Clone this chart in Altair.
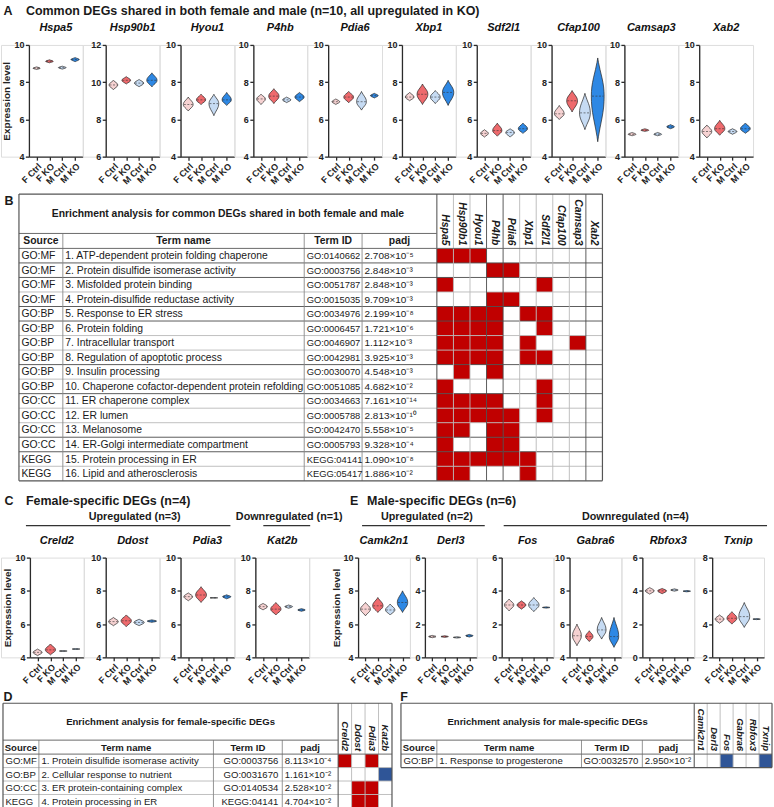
import altair as alt
import pandas as pd

FONT = "Liberation Sans"
PAGE_W = 774
PAGE_H = 807
INK = "#1a1a1a"
RED = "#c00000"
BLUE = "#2f5597"

GROUPS = ["F Ctrl", "F KO", "M Ctrl", "M KO"]
GROUP_COLORS = ["#f6d2d2", "#ee6a6d", "#c6dbf3", "#2e88e4"]

# ---------------- violin summaries ----------------
A_GENES = ["Hspa5", "Hsp90b1", "Hyou1", "P4hb", "Pdia6", "Xbp1", "Sdf2l1", "Cfap100", "Camsap3", "Xab2"]
C_GENES = ["Creld2", "Ddost", "Pdia3", "Kat2b"]
E_GENES = ["Camk2n1", "Derl3", "Fos", "Gabra6", "Rbfox3", "Txnip"]

Y_RANGE = {
    "Hspa5": (4, 10), "Hsp90b1": (6, 12), "Hyou1": (4, 10), "P4hb": (4, 10), "Pdia6": (4, 10),
    "Xbp1": (4, 10), "Sdf2l1": (4, 10), "Cfap100": (4, 10), "Camsap3": (4, 10), "Xab2": (4, 10),
    "Creld2": (4, 10), "Ddost": (4, 10), "Pdia3": (4, 10), "Kat2b": (4, 10),
    "Camk2n1": (4, 10), "Derl3": (0, 6), "Fos": (0, 6), "Gabra6": (4, 10), "Rbfox3": (0, 6), "Txnip": (2, 8),
}
# widest point of each violin (F Ctrl, F KO, M Ctrl, M KO)
V_MID = {
    "Hspa5": [8.75, 9.12, 8.78, 9.22], "Hsp90b1": [9.85, 10.1, 9.95, 10.1],
    "Hyou1": [6.8, 7.05, 6.85, 7.05], "P4hb": [7.1, 7.25, 7.05, 7.2],
    "Pdia6": [6.95, 7.2, 6.95, 7.28], "Xbp1": [7.2, 7.35, 7.2, 7.45],
    "Sdf2l1": [5.25, 5.4, 5.3, 5.5], "Cfap100": [6.3, 7.0, 6.35, 7.25],
    "Camsap3": [5.2, 5.42, 5.2, 5.6], "Xab2": [5.35, 5.5, 5.35, 5.5],
    "Creld2": [4.3, 4.45, 4.38, 4.5], "Ddost": [6.15, 6.2, 6.1, 6.18],
    "Pdia3": [7.65, 7.75, 7.58, 7.65], "Kat2b": [7.05, 6.9, 7.05, 6.85],
    "Camk2n1": [6.9, 7.1, 6.85, 7.3], "Derl3": [1.25, 1.25, 1.2, 1.3],
    "Fos": [3.15, 3.15, 3.15, 3.0], "Gabra6": [5.3, 5.25, 5.65, 5.25],
    "Rbfox3": [4.0, 4.0, 4.05, 3.98], "Txnip": [4.3, 4.35, 4.45, 4.3],
}
V_LO = {
    "Hspa5": [8.68, 9.04, 8.7, 9.1], "Hsp90b1": [9.6, 9.9, 9.75, 9.75],
    "Hyou1": [6.45, 6.8, 6.2, 6.75], "P4hb": [6.8, 6.85, 6.9, 6.95],
    "Pdia6": [6.8, 6.9, 6.5, 7.15], "Xbp1": [7.0, 6.8, 6.85, 6.75],
    "Sdf2l1": [5.05, 5.1, 5.05, 5.25], "Cfap100": [6.0, 6.4, 5.45, 4.8],
    "Camsap3": [5.12, 5.35, 5.12, 5.5], "Xab2": [5.0, 5.15, 5.2, 5.25],
    "Creld2": [4.1, 4.15, 4.35, 4.48], "Ddost": [5.9, 5.85, 5.9, 6.1],
    "Pdia3": [7.4, 7.3, 7.56, 7.52], "Kat2b": [6.85, 6.55, 6.95, 6.77],
    "Camk2n1": [6.5, 6.7, 6.55, 6.7], "Derl3": [1.18, 1.2, 1.16, 1.22],
    "Fos": [2.8, 2.9, 2.75, 2.96], "Gabra6": [4.7, 4.95, 5.1, 4.6],
    "Rbfox3": [3.8, 3.82, 3.98, 3.94], "Txnip": [4.05, 4.0, 3.8, 4.27],
}
V_HI = {
    "Hspa5": [8.82, 9.2, 8.86, 9.32], "Hsp90b1": [10.1, 10.3, 10.15, 10.5],
    "Hyou1": [7.2, 7.35, 7.35, 7.45], "P4hb": [7.35, 7.65, 7.2, 7.45],
    "Pdia6": [7.1, 7.5, 7.5, 7.4], "Xbp1": [7.45, 7.9, 7.55, 8.1],
    "Sdf2l1": [5.45, 5.8, 5.5, 5.8], "Cfap100": [6.75, 7.55, 7.4, 9.3],
    "Camsap3": [5.3, 5.5, 5.3, 5.72], "Xab2": [5.7, 5.95, 5.5, 5.8],
    "Creld2": [4.5, 4.8, 4.41, 4.52], "Ddost": [6.4, 6.55, 6.3, 6.26],
    "Pdia3": [7.88, 8.25, 7.6, 7.76], "Kat2b": [7.25, 7.3, 7.15, 6.93],
    "Camk2n1": [7.3, 7.6, 7.2, 8.0], "Derl3": [1.32, 1.3, 1.24, 1.38],
    "Fos": [3.5, 3.4, 3.6, 3.04], "Gabra6": [6.0, 5.6, 6.4, 6.4],
    "Rbfox3": [4.2, 4.15, 4.12, 4.02], "Txnip": [4.55, 4.75, 5.3, 4.33],
}
# half width of each violin, in group-spacing units
V_HW = {
    "Hspa5": [0.28, 0.3, 0.3, 0.32], "Hsp90b1": [0.34, 0.34, 0.36, 0.4],
    "Hyou1": [0.38, 0.36, 0.38, 0.36], "P4hb": [0.34, 0.4, 0.32, 0.36],
    "Pdia6": [0.3, 0.38, 0.38, 0.3], "Xbp1": [0.34, 0.42, 0.38, 0.44],
    "Sdf2l1": [0.3, 0.36, 0.34, 0.36], "Cfap100": [0.38, 0.42, 0.42, 0.5],
    "Camsap3": [0.3, 0.3, 0.3, 0.3], "Xab2": [0.38, 0.4, 0.34, 0.38],
    "Creld2": [0.35, 0.4, 0.3, 0.3], "Ddost": [0.38, 0.4, 0.4, 0.36],
    "Pdia3": [0.34, 0.42, 0.3, 0.32], "Kat2b": [0.34, 0.4, 0.3, 0.3],
    "Camk2n1": [0.4, 0.42, 0.38, 0.42], "Derl3": [0.3, 0.3, 0.3, 0.3],
    "Fos": [0.38, 0.36, 0.42, 0.3], "Gabra6": [0.36, 0.3, 0.36, 0.38],
    "Rbfox3": [0.36, 0.36, 0.3, 0.3], "Txnip": [0.36, 0.4, 0.44, 0.3],
}

# ---------------- enrichment tables ----------------
B_GENES = A_GENES
B_SOURCE = ["GO:MF"] * 4 + ["GO:BP"] * 6 + ["GO:CC"] * 4 + ["KEGG"] * 2
B_TERMS = [
    "1. ATP-dependent protein folding chaperone", "2. Protein disulfide isomerase activity",
    "3. Misfolded protein binding", "4. Protein-disulfide reductase activity",
    "5. Response to ER stress", "6. Protein folding", "7. Intracellular transport",
    "8. Regulation of apoptotic process", "9. Insulin processing",
    "10. Chaperone cofactor-dependent protein refolding", "11. ER chaperone complex",
    "12. ER lumen", "13. Melanosome", "14. ER-Golgi intermediate compartment",
    "15. Protein processing in ER", "16. Lipid and atherosclerosis",
]
B_IDS = ["GO:0140662", "GO:0003756", "GO:0051787", "GO:0015035", "GO:0034976", "GO:0006457",
         "GO:0046907", "GO:0042981", "GO:0030070", "GO:0051085", "GO:0034663", "GO:0005788",
         "GO:0042470", "GO:0005793", "KEGG:04141", "KEGG:05417"]
B_PADJ = ["2.708×10⁻⁵", "2.848×10⁻³", "2.848×10⁻³", "9.709×10⁻³", "2.199×10⁻⁸", "1.721×10⁻⁶",
          "1.112×10⁻³", "3.925×10⁻³", "4.548×10⁻³", "4.682×10⁻²", "7.161×10⁻¹⁴", "2.813×10⁻¹⁰",
          "5.558×10⁻⁵", "9.328×10⁻⁴", "1.090×10⁻⁸", "1.886×10⁻²"]
B_HITS = [
    [1, 1, 1, 0, 0, 0, 0, 0, 0, 0],
    [0, 0, 0, 1, 1, 0, 0, 0, 0, 0],
    [1, 0, 0, 0, 0, 0, 1, 0, 0, 0],
    [0, 0, 0, 1, 1, 0, 0, 0, 0, 0],
    [1, 1, 1, 1, 0, 1, 1, 0, 0, 0],
    [1, 1, 1, 1, 0, 0, 1, 0, 0, 0],
    [1, 1, 1, 1, 0, 1, 0, 0, 1, 0],
    [1, 1, 1, 1, 0, 1, 1, 0, 0, 0],
    [0, 1, 0, 1, 0, 0, 0, 0, 0, 0],
    [1, 0, 0, 0, 0, 0, 1, 0, 0, 0],
    [1, 1, 1, 1, 0, 0, 1, 0, 0, 0],
    [1, 1, 1, 1, 1, 0, 1, 0, 0, 0],
    [1, 1, 0, 1, 1, 0, 0, 0, 0, 0],
    [1, 0, 0, 1, 1, 0, 0, 0, 0, 0],
    [1, 1, 1, 1, 1, 1, 0, 0, 0, 0],
    [1, 1, 0, 0, 0, 1, 0, 0, 0, 0],
]
D_GENES = ["Creld2", "Ddost", "Pdia3", "Kat2b"]
D_SOURCE = ["GO:MF", "GO:BP", "GO:CC", "KEGG"]
D_TERMS = ["1. Protein disulfide isomerase activity", "2. Cellular response to nutrient",
           "3. ER protein-containing complex", "4. Protein processing in ER"]
D_IDS = ["GO:0003756", "GO:0031670", "GO:0140534", "KEGG:04141"]
D_PADJ = ["8.113×10⁻⁴", "1.161×10⁻²", "2.528×10⁻²", "4.704×10⁻²"]
D_HITS = [[1, 0, 1, 0], [0, 0, 0, -1], [0, 1, 1, 0], [0, 1, 1, 0]]
F_GENES = E_GENES
F_SOURCE = ["GO:BP"]
F_TERMS = ["1. Response to progesterone"]
F_IDS = ["GO:0032570"]
F_PADJ = ["2.950×10⁻²"]
F_HITS = [[0, 0, -1, 0, 0, -1]]

# ---------------- layout / style constants ----------------
PROFILE_T = [0.0, 0.06, 0.15, 0.26, 0.38, 0.5, 0.62, 0.74, 0.85, 0.94, 1.0]
PROFILE_W = [0.0, 0.12, 0.35, 0.66, 0.92, 1.0, 0.92, 0.66, 0.35, 0.12, 0.0]

A_LEFT = [28, 105, 180, 253, 328, 402, 477, 552, 625, 700]
C_LEFT = [29, 105, 180, 255]
E_LEFT = [358, 425, 502, 570, 643, 713]
A_W, C_W, E_W = 54, 54, 52
A_TOP, A_H = 43, 112
CE_TOP, CE_H = 555, 100
SPLIT = 486            # page row where the upper block (A, B) meets the lower block (C-F)

B_LAYOUT = dict(cols=[18, 62, 304, 362, 437], gene_w=16.6, top=192.5, title_bottom=232,
                head_bottom=247, bottom=480, align=["left", "left", "left", "left"],
                fs=10.4, fs_cols=[10.4, 10.4, 9.4, 10.0],
                dark_rows=[1, 2, 4, 5, 8, 10, 13, 14], dark_cols=[3, 4, 9])
D_LAYOUT = dict(cols=[2, 38, 213, 282, 338], gene_w=13.5, top=701, title_bottom=738,
                head_bottom=752, bottom=806, align=["left", "left", "right", "left"],
                fs=9.6, fs_cols=[9.6, 9.6, 9.6, 9.6], dark_rows=[], dark_cols=[])
F_LAYOUT = dict(cols=[401, 437, 582, 643, 695], gene_w=13, top=701, title_bottom=738,
                head_bottom=752, bottom=765.5, align=["left", "left", "right", "left"],
                fs=9.6, fs_cols=[9.6, 9.6, 9.6, 9.6], dark_rows=[], dark_cols=[])

AXIS_STYLE = dict(domainColor="#2b2b2b", domainWidth=1.3, tickColor="#2b2b2b", tickWidth=1.3,
                  tickSize=3.5, labelFont=FONT, labelFontWeight="bold", labelColor="#222",
                  grid=False, labelFontSize=9, labelPadding=1.5, labelOverlap=False)


# ---------------- helpers ----------------
def gap_block(w, h):
    return alt.Chart(pd.DataFrame({"s": [0]})).mark_rect(opacity=0).encode(
        x=alt.value(0), x2=alt.value(w), y=alt.value(0), y2=alt.value(h)
    ).properties(width=w, height=h)


def violin_chart(gene, width, height, ytitle=None):
    ymin, ymax = Y_RANGE[gene]
    rows, meds = [], []
    for i, g in enumerate(GROUPS):
        lo, mid, hi, hw = V_LO[gene][i], V_MID[gene][i], V_HI[gene][i], V_HW[gene][i]
        for t, w in zip(PROFILE_T, PROFILE_W):
            v = lo + (mid - lo) * t / 0.5 if t <= 0.5 else mid + (hi - mid) * (t - 0.5) / 0.5
            rows.append({"group": g, "v": v, "xl": i - hw * w, "xr": i + hw * w})
        meds.append({"group": g, "v": mid, "xl": i - hw * 0.9, "xr": i + hw * 0.9})
    xs = alt.Scale(domain=[-0.6, 3.6], nice=False, zero=False)
    ys = alt.Scale(domain=[ymin, ymax], nice=False, zero=False)
    label_expr = "[" + ",".join("'%s'" % g for g in GROUPS) + "][datum.value]"
    xaxis = alt.Axis(values=[0, 1, 2, 3], labelExpr=label_expr, labelAngle=-45, title=None,
                     **AXIS_STYLE)
    ykw = dict(values=list(range(ymin, ymax + 1, 2)), **AXIS_STYLE)
    if ytitle:
        ykw.update(title=ytitle, titleFont=FONT, titleFontSize=10, titleFontWeight="bold",
                   titleColor="#222", titlePadding=2)
    else:
        ykw.update(title=None)
    yaxis = alt.Axis(**ykw)
    area = alt.Chart(pd.DataFrame(rows)).mark_area(
        orient="horizontal", interpolate="monotone", stroke="#222", strokeWidth=0.7
    ).encode(
        y=alt.Y("v:Q", scale=ys, axis=yaxis),
        x=alt.X("xl:Q", scale=xs, axis=xaxis, stack=None),
        x2="xr:Q",
        color=alt.Color("group:N", scale=alt.Scale(domain=GROUPS, range=GROUP_COLORS), legend=None),
    )
    med = alt.Chart(pd.DataFrame(meds)).mark_rule(
        strokeDash=[2, 1.5], strokeWidth=0.6, color="#333"
    ).encode(
        y=alt.Y("v:Q", scale=ys, axis=yaxis),
        x=alt.X("xl:Q", scale=xs, axis=xaxis),
        x2="xr:Q",
    )
    return alt.layer(area, med).properties(
        width=width, height=height,
        title=alt.TitleParams(gene, font=FONT, fontSize=11, fontStyle="italic",
                              fontWeight="bold", color="#111", offset=8),
    )


def text_layer(recs, xs, ys, **props):
    mk = dict(font=FONT, color=INK)
    mk.update(props)
    return alt.Chart(pd.DataFrame(recs)).mark_text(**mk).encode(
        x=alt.X("x:Q", scale=xs, axis=None),
        y=alt.Y("y:Q", scale=ys, axis=None),
        text="t:N",
    )


def rule_layer(recs, xs, ys):
    return alt.Chart(pd.DataFrame(recs)).mark_rule().encode(
        x=alt.X("x:Q", scale=xs, axis=None), x2="x2:Q",
        y=alt.Y("y:Q", scale=ys, axis=None), y2="y2:Q",
        color=alt.Color("c:N", scale=None),
        strokeWidth=alt.StrokeWidth("w:Q", scale=None),
    )


def rect_layer(recs, xs, ys, **props):
    return alt.Chart(pd.DataFrame(recs)).mark_rect(**props).encode(
        x=alt.X("x:Q", scale=xs, axis=None), x2="x2:Q",
        y=alt.Y("y:Q", scale=ys, axis=None), y2="y2:Q",
        fill=alt.Fill("f:N", scale=None),
    )


def table_layers(L, xs, ys, title, genes, source, terms, ids, padj, hits):
    c = L["cols"]
    gx = [c[-1] + L["gene_w"] * j for j in range(len(genes) + 1)]
    left, right = c[0], gx[-1]
    top, tb, hb, bot = L["top"], L["title_bottom"], L["head_bottom"], L["bottom"]
    n = len(source)
    rh = (bot - hb) / n
    ry = [hb + rh * r for r in range(n + 1)]
    fs = L["fs"]
    layers = []
    cells = []
    for r, rowvals in enumerate(hits):
        for j, v in enumerate(rowvals):
            if v:
                cells.append({"x": gx[j], "x2": gx[j + 1], "y": ry[r], "y2": ry[r + 1],
                              "f": RED if v > 0 else BLUE})
    if cells:
        layers.append(rect_layer(cells, xs, ys))
    light, dark = "#b8b8b8", "#4a4a4a"
    lines = []
    for r in range(1, n):
        col = dark if r in L["dark_rows"] else light
        lines.append({"x": left, "x2": right, "y": ry[r], "y2": ry[r], "c": col, "w": 0.9})
    for j in range(1, len(genes)):
        col = dark if j in L["dark_cols"] else light
        lines.append({"x": gx[j], "x2": gx[j], "y": top, "y2": bot, "c": col, "w": 0.9})
    for xc in c[1:-1]:
        lines.append({"x": xc, "x2": xc, "y": tb, "y2": bot, "c": "#8a8a8a", "w": 0.9})
    lines.append({"x": c[-1], "x2": c[-1], "y": top, "y2": bot, "c": dark, "w": 1.0})
    lines.append({"x": left, "x2": c[-1], "y": tb, "y2": tb, "c": "#6a6a6a", "w": 1.0})
    lines.append({"x": left, "x2": right, "y": hb, "y2": hb, "c": "#6a6a6a", "w": 1.0})
    for (x1, y1, x2, y2) in [(left, top, right, top), (left, bot, right, bot),
                             (left, top, left, bot), (right, top, right, bot)]:
        lines.append({"x": x1, "x2": x2, "y": y1, "y2": y2, "c": "#555555", "w": 1.2})
    layers.append(rule_layer(lines, xs, ys))
    layers.append(text_layer([{"x": (left + c[-1]) / 2, "y": (top + tb) / 2, "t": title}], xs, ys,
                             fontSize=fs, fontWeight="bold", align="center", baseline="middle"))
    heads = ["Source", "Term name", "Term ID", "padj"]
    layers.append(text_layer([{"x": (c[i] + c[i + 1]) / 2, "y": (tb + hb) / 2 + 0.5, "t": heads[i]}
                              for i in range(4)], xs, ys,
                             fontSize=fs, fontWeight="bold", align="center", baseline="middle"))
    layers.append(text_layer([{"x": (gx[j] + gx[j + 1]) / 2, "y": hb - 3, "t": g}
                              for j, g in enumerate(genes)], xs, ys,
                             fontSize=fs, fontWeight="bold", fontStyle="italic", angle=90,
                             align="right", baseline="middle"))
    cols = [source, terms, ids, padj]
    for i, vals in enumerate(cols):
        al = L["align"][i]
        if al == "left":
            xp = c[i] + 2.5
        elif al == "right":
            xp = c[i + 1] - 4
        else:
            xp = (c[i] + c[i + 1]) / 2
        recs = [{"x": xp, "y": (ry[r] + ry[r + 1]) / 2 + 0.5, "t": v} for r, v in enumerate(vals)]
        layers.append(text_layer(recs, xs, ys, fontSize=L["fs_cols"][i], align=al,
                                 baseline="middle"))
    return layers


def canvas_block(width, plot_top, plot_h, page_top, page_bottom, builder):
    """First block of a row: page-coordinate scales anchored on the row's plot area.
    It carries the headings/tables of that band and fixes the band's extent."""
    xs = alt.Scale(domain=[0, width], nice=False, zero=False)
    ys = alt.Scale(domain=[plot_top, plot_top + plot_h], nice=False, zero=False, reverse=True)
    frame = rect_layer([{"x": 0, "x2": PAGE_W, "y": page_top, "y2": page_bottom, "f": "#ffffff"}],
                       xs, ys, opacity=0)
    return alt.layer(frame, *builder(xs, ys)).properties(width=width, height=plot_h)


def band(first_left, plot_top, plot_h, page_top, page_bottom, builder, items):
    parts = [canvas_block(first_left, plot_top, plot_h, page_top, page_bottom, builder)]
    cursor = first_left
    for left, chart, width in items:
        gap = left - cursor
        if gap > 0.01:
            parts.append(gap_block(gap, plot_h))
        parts.append(chart)
        cursor = left + width
    return alt.hconcat(*parts, spacing=0, bounds="flush")


# ---------------- upper band: panel A + table B ----------------
def upper_content(xs, ys):
    layers = [
        text_layer([{"x": 7, "y": 8.5, "t": "A"}, {"x": 8, "y": 199, "t": "B"}], xs, ys,
                   fontSize=12.5, fontWeight="bold", align="center", baseline="middle"),
        text_layer([{"x": 25, "y": 8.5,
                     "t": "Common DEGs shared in both female and male (n=10, all upregulated in KO)"}],
                   xs, ys, fontSize=12.5, fontWeight="bold", align="left", baseline="middle"),
    ]
    layers += table_layers(B_LAYOUT, xs, ys,
                           "Enrichment analysis for common DEGs shared in both female and male",
                           B_GENES, B_SOURCE, B_TERMS, B_IDS, B_PADJ, B_HITS)
    return layers


upper = band(A_LEFT[0], A_TOP, A_H, 0, SPLIT, upper_content,
             [(A_LEFT[i], violin_chart(g, A_W, A_H, "Expression level" if i == 0 else None), A_W)
              for i, g in enumerate(A_GENES)])


# ---------------- lower band: panels C, E violins + tables D, F ----------------
def lower_content(xs, ys):
    layers = [
        text_layer([{"x": 8, "y": 498, "t": "C"}, {"x": 354, "y": 498, "t": "E"},
                    {"x": 7, "y": 695, "t": "D"}, {"x": 404, "y": 695, "t": "F"}], xs, ys,
                   fontSize=12.5, fontWeight="bold", align="center", baseline="middle"),
        text_layer([{"x": 25, "y": 498, "t": "Female-specific DEGs (n=4)"},
                    {"x": 367, "y": 498, "t": "Male-specific DEGs (n=6)"}], xs, ys,
                   fontSize=12.5, fontWeight="bold", align="left", baseline="middle"),
        text_layer([{"x": 134, "y": 514, "t": "Upregulated (n=3)"},
                    {"x": 289, "y": 514, "t": "Downregulated (n=1)"},
                    {"x": 427, "y": 514, "t": "Upregulated (n=2)"},
                    {"x": 636, "y": 514, "t": "Downregulated (n=4)"}], xs, ys,
                   fontSize=10.8, fontWeight="bold", align="center", baseline="middle"),
        rule_layer([{"x": a, "x2": b, "y": 523, "y2": 523, "c": "#333333", "w": 1.2}
                    for a, b in [(25, 230), (263, 310), (362, 485), (504, 768)]], xs, ys),
    ]
    layers += table_layers(D_LAYOUT, xs, ys, "Enrichment analysis for female-specific DEGs",
                           D_GENES, D_SOURCE, D_TERMS, D_IDS, D_PADJ, D_HITS)
    layers += table_layers(F_LAYOUT, xs, ys, "Enrichment analysis for male-specific DEGs",
                           F_GENES, F_SOURCE, F_TERMS, F_IDS, F_PADJ, F_HITS)
    return layers


lower_items = [(C_LEFT[i], violin_chart(g, C_W, CE_H, "Expression level" if i == 0 else None), C_W)
               for i, g in enumerate(C_GENES)]
lower_items += [(E_LEFT[i], violin_chart(g, E_W, CE_H, "Expression level" if i == 0 else None), E_W)
                for i, g in enumerate(E_GENES)]
lower = band(C_LEFT[0], CE_TOP, CE_H, SPLIT, PAGE_H, lower_content, lower_items)

chart = alt.vconcat(upper, lower, spacing=0).properties(
    padding=0
).configure_view(stroke=None).configure(font=FONT, background="white")

chart.save("out.html", embed_options={"renderer": "svg", "actions": False})
